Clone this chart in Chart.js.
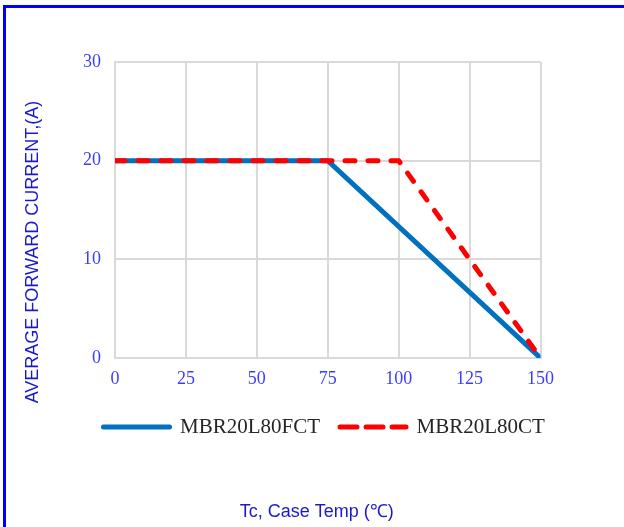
<!DOCTYPE html>
<html>
<head>
<meta charset="utf-8">
<script src="https://cdn.jsdelivr.net/npm/chart.js@4/dist/chart.umd.min.js"></script>
<style>
    html, body { margin: 0; padding: 0; background: #fff; overflow: hidden; }
    .frame {
        position: absolute;
        left: 3px;
        top: 5px;
        border-left: 3px solid #0000ff;
        border-top: 3px solid #0000ff;
    }
    .box { position: relative; width: 618px; height: 519px; }
</style>
</head>
<body>
<div class="frame"><div class="box"><canvas id="deratingChart"></canvas></div></div>
<script>
// Derating curves
const fctTemp = [0, 75, 150];
const fctCurrent = [20, 20, 0];
const ctTemp = [0, 100, 150];
const ctCurrent = [20, 20, 0];

const seriesNames = ['MBR20L80FCT', 'MBR20L80CT'];
const xLabel = 'Tc, Case Temp (\u2103)';
const yLabel = 'AVERAGE FORWARD CURRENT,(A)';

const toPoints = (xs, ys) => xs.map((x, i) => ({ x: x, y: ys[i] }));

// Axis captions sit outside the legend / off-centre, so they are drawn here
const axisCaptions = {
    id: 'axisCaptions',
    afterDraw(chart) {
        const { ctx, chartArea } = chart;
        const midX = (chartArea.left + chartArea.right) / 2;
        const midY = (chartArea.top + chartArea.bottom) / 2;
        ctx.save();
        ctx.font = '18px "Liberation Sans", Arial, sans-serif';
        ctx.fillStyle = '#1a1acc';
        ctx.textAlign = 'center';
        ctx.textBaseline = 'middle';
        ctx.fillText(xLabel, midX - 11, chartArea.bottom + 154);
        ctx.translate(chartArea.left - 82, midY + 42);
        ctx.rotate(-Math.PI / 2);
        ctx.fillText(yLabel, 0, 0);
        ctx.restore();
    }
};

// legend samples: point style ignores the dataset dash, so copy the line style over
const legendDash = { MBR20L80CT: [17, 9] };
const legendLabels = (chart) => {
    const items = Chart.defaults.plugins.legend.labels.generateLabels(chart);
    return items.map(item => {
        const ds = chart.data.datasets[item.datasetIndex];
        item.lineWidth = ds.borderWidth;
        item.lineCap = ds.borderCapStyle;
        item.lineDash = legendDash[ds.label] || [];
        item.strokeStyle = ds.borderColor;
        return item;
    });
};

const tickFont = { family: '"Liberation Serif", "Times New Roman", serif', size: 18 };
const gridStyle = { color: '#d9d9d9', lineWidth: 2, drawTicks: false };
const borderStyle = { color: '#d9d9d9', width: 2 };

new Chart(document.getElementById('deratingChart').getContext('2d'), {
    type: 'line',
    data: {
        datasets: [
            {
                label: seriesNames[0],
                data: toPoints(fctTemp, fctCurrent),
                borderColor: '#0070c0',
                backgroundColor: '#0070c0',
                borderWidth: 5,
                borderCapStyle: 'round',
                pointRadius: 0,
                tension: 0,
                order: 1
            },
            {
                label: seriesNames[1],
                data: toPoints(ctTemp, ctCurrent),
                borderColor: '#ff0000',
                backgroundColor: '#ff0000',
                borderWidth: 5,
                borderDash: [10, 13],
                borderCapStyle: 'round',
                pointRadius: 0,
                tension: 0,
                order: 0
            }
        ]
    },
    options: {
        responsive: true,
        maintainAspectRatio: false,
        animation: false,
        events: [],
        layout: {
            padding: { left: 77.5, right: 20, top: 54, bottom: 79.5 }
        },
        scales: {
            x: {
                type: 'linear',
                min: 0,
                max: 150,
                afterFit: (scale) => { scale.height = 38.5; },
                ticks: {
                    stepSize: 25,
                    padding: 10,
                    color: '#3c3cff',
                    font: tickFont
                },
                grid: gridStyle,
                border: borderStyle
            },
            y: {
                min: 0,
                max: 30,
                afterFit: (scale) => { scale.width = 31.5; },
                ticks: {
                    stepSize: 10,
                    padding: 14,
                    color: '#3c3cff',
                    font: tickFont
                },
                grid: gridStyle,
                border: borderStyle
            },
            // empty right-hand axis, only reserves the white space right of the plot
            spacer: {
                type: 'linear',
                position: 'right',
                afterFit: (scale) => { scale.width = 63.5; },
                ticks: { display: false },
                grid: { display: false },
                border: { display: false }
            }
        },
        plugins: {
            legend: {
                display: true,
                position: 'bottom',
                align: 'start',
                labels: {
                    usePointStyle: true,
                    pointStyle: 'line',
                    pointStyleWidth: 66,
                    padding: 20,
                    color: '#262626',
                    font: { family: '"Liberation Serif", "Times New Roman", serif', size: 21 },
                    generateLabels: legendLabels,
                    sort: (a, b) => a.datasetIndex - b.datasetIndex
                }
            },
            title: { display: false },
            tooltip: { enabled: false }
        }
    },
    plugins: [axisCaptions]
});
</script>
</body>
</html>
